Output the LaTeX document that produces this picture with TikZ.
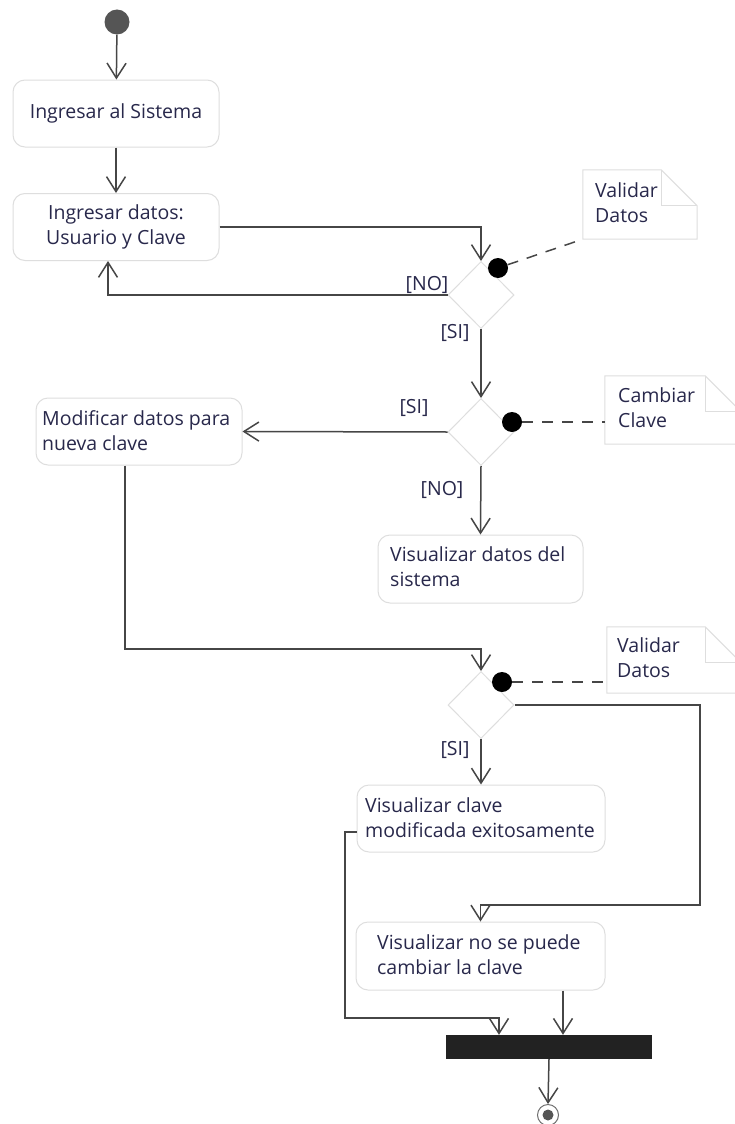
\documentclass[tikz,border=0pt]{standalone}
\usepackage{fontspec}
\setmainfont{Open Sans}
\usetikzlibrary{arrows.meta,shapes.geometric,calc}
\definecolor{txt}{RGB}{40,40,75}
\definecolor{ln}{RGB}{70,70,70}
\definecolor{bd}{RGB}{222,222,222}
\definecolor{barc}{RGB}{34,34,34}
\begin{document}
\begin{tikzpicture}[x=1pt,y=-1pt,font=\fontsize{19.5}{25}\selectfont,
  box/.style={draw=bd,line width=1pt,rounded corners=12pt,fill=white,minimum width=206pt,minimum height=67pt,inner sep=0pt,text=txt,align=center},
  dec/.style={diamond,draw=bd,line width=1pt,fill=white,inner sep=0pt,minimum width=66pt,minimum height=67pt},
  flow/.style={draw=ln,line width=1.5pt,-{Straight Barb[length=15pt,width=19pt]}},
  lbl/.style={text=txt,inner sep=0pt,align=left},
  dot/.style={circle,fill=black,minimum size=20pt,inner sep=0pt},
  dashline/.style={draw=ln,line width=1.5pt,dash pattern=on 11pt off 9pt},
  notearea/.style={inner sep=0pt}]
\useasboundingbox (0,0) rectangle (734,1124);
\fill[white] (0,0) rectangle (734,1124);

% start
\node[circle,fill={rgb,255:red,85;green,85;blue,85},minimum size=25pt,inner sep=0pt] (start) at (117,22) {};

% boxes
\node[box] (b1) at (116,113.5) {Ingresar al Sistema};
\node[box] (b2) at (116,227) {Ingresar datos:\\Usuario y Clave};
\node[box] (b3) at (139,431.5) {};
\node[lbl,anchor=west] (t3) at (42,431) {Modificar datos para\\nueva clave};
\node[box,minimum width=205pt,minimum height=68pt] (b4) at (480.5,569) {};
\node[lbl,anchor=west] (t4) at (390,567) {Visualizar datos del\\sistema};
\node[box,minimum width=248pt] (b5) at (481,818.5) {};
\node[lbl,anchor=west] (t5) at (365,818) {Visualizar clave\\modificada exitosamente};
\node[box,minimum width=249pt,minimum height=68pt] (b6) at (480.5,956) {};
\node[lbl,anchor=west] (t6) at (377,955) {Visualizar no se puede\\cambiar la clave};

% decisions
\node[dec] (d1) at (481,295) {};
\node[dec] (d2) at (481,432) {};
\node[dec] (d3) at (481,705) {};

% notes
\node[notearea,minimum width=114pt,minimum height=69pt] (n1) at (640,204.5) {};
\node[notearea,minimum width=136pt,minimum height=68pt] (n2) at (673,410) {};
\node[notearea,minimum width=134pt,minimum height=66pt] (n3) at (674,660) {};
\foreach \n in {n1,n2,n3}{
  \draw[bd,line width=1pt,fill=white] (\n.south west) -- (\n.north west) -- ([xshift=-36pt]\n.north east) -- ([yshift=-36pt]\n.north east) -- (\n.south east) -- cycle;
  \draw[bd,line width=1pt] ([xshift=-36pt]\n.north east) |- ([yshift=-36pt]\n.north east);
}
\node[lbl,anchor=west] (tn1) at (595,203) {Validar\\Datos};
\node[lbl,anchor=west] (tn2) at (618,408) {Cambiar\\Clave};
\node[lbl,anchor=west] (tn3) at (617,658) {Validar\\Datos};

% dots
\node[dot] (k1) at (498,268) {};
\node[dot] (k2) at (512,422) {};
\node[dot] (k3) at (502,682) {};
\draw[dashline] (k1) -- (n1.south west);
\draw[dashline] (k2) -- (k2 -| n2.west);
\draw[dashline] (k3) -- (k3 -| n3.west);

% join bar and end
\node[fill=barc,minimum width=206pt,minimum height=24pt,inner sep=0pt] (bar) at (549,1047) {};
\node[circle,draw={rgb,255:red,110;green,110;blue,110},line width=1pt,fill=white,minimum size=21pt,inner sep=0pt] (end) at (548,1115) {};
\node[circle,fill={rgb,255:red,85;green,85;blue,85},minimum size=11pt,inner sep=0pt] (endin) at (end.center) {};

\coordinate (r3) at (700,905);
\coordinate (l5) at (345,1018);

% connectors
\draw[flow] (start) -- (b1);
\draw[flow] (b1) -- (b2);
\draw[flow] (b2.east) -| (d1.north);
\draw[flow] (d1.west) -| ([xshift=-8pt]b2.south);
\draw[flow] (d1.south) -- (d2.north);
\draw[flow] (d2.west) -- (b3.east);
\draw[flow] (d2.south) -- (b4.north);
\draw[flow] ([xshift=-14pt]b3.south) |- ([yshift=22pt]d3.north) -- (d3.north);
\draw[flow] (d3.south) -- (b5.north);
\draw[flow] (d3.east) -| (r3) -| (b6.north);
\draw[flow] ([yshift=-13.5pt]b5.west) -| (l5) -| ([xshift=-50pt]bar.north);
\draw[flow] ([xshift=82.5pt]b6.south) -- ([xshift=14pt]bar.north);
\draw[flow] (bar.south) -- (end.north);

% guards
\node[lbl] (g1) at (427,285) {[NO]};
\node[lbl] (g2) at (455,333) {[SI]};
\node[lbl] (g3) at (414,408) {[SI]};
\node[lbl] (g4) at (442,490) {[NO]};
\node[lbl] (g5) at (455,750) {[SI]};
\end{tikzpicture}
\end{document}
